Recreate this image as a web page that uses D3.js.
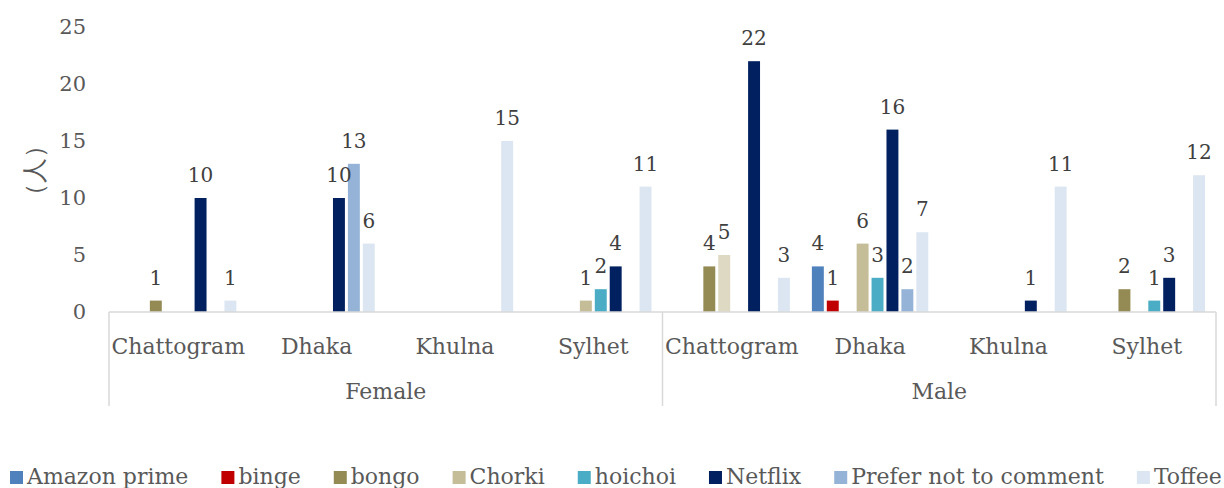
<!DOCTYPE html>
<html>
<head>
<meta charset="utf-8">
<script src="https://cdn.jsdelivr.net/npm/d3@7"></script>
<style>
  body { margin: 0; background: #fff; }
  svg { display: block; font-family: 'DejaVu Serif', serif; }
</style>
</head>
<body>
<div id="chart"></div>
<script>
// chart data
const genders = ['Female', 'Male'];
const regions = ['Chattogram', 'Dhaka', 'Khulna', 'Sylhet'];
const series = ['Amazon prime', 'binge', 'bongo', 'Chorki', 'hoichoi', 'Netflix', 'Prefer not to comment', 'Toffee'];
const colors = ['#4F81BD', '#C00000', '#948A54', '#C4BD97', '#4BACC6', '#002060', '#95B3D7', '#DCE6F2'];
const yTicks = [0, 5, 10, 15, 20, 25];

// values per series, in order Female Chattogram..Sylhet then Male Chattogram..Sylhet (null = no bar)
const amazon  = [null, null, null, null, null, 4, null, null];
const binge   = [null, null, null, null, null, 1, null, null];
const bongo   = [1, null, null, null, 4, null, null, 2];
const chorki  = [null, null, null, 1, 5, 6, null, null];
const hoichoi = [null, null, null, 2, null, 3, null, 1];
const netflix = [10, 10, null, 4, 22, 16, 1, 3];
const prefer  = [null, 13, null, null, null, 2, null, null];
const toffee  = [1, 6, 15, 11, 3, 7, 11, 12];
const values = [amazon, binge, bongo, chorki, hoichoi, netflix, prefer, toffee];

const width = 1224, height = 488;
const plotLeft = 109, plotRight = 1216, plotTop = 27, base = 312;
const textColor = '#595959';
const gridColor = '#d9d9d9';

const svg = d3.select('#chart').append('svg')
    .attr('width', width)
    .attr('height', height);

// one slot per gender/region pair
const groups = [];
genders.forEach(g => regions.forEach(r => groups.push(g + '|' + r)));

const x0 = d3.scaleBand().domain(groups).range([plotLeft, plotRight]);
const x1 = d3.scaleBand().domain(series)
    .range([11, x0.bandwidth() - 11])
    .paddingInner(0.2);
const y = d3.scaleLinear().domain([0, 25]).range([base, plotTop]);

// y tick labels (no axis line)
const yAxis = svg.append('g')
    .attr('transform', `translate(86,0)`)
    .call(d3.axisLeft(y).tickValues(yTicks).tickSize(0).tickPadding(0));
yAxis.select('.domain').remove();
yAxis.selectAll('text')
    .attr('fill', textColor)
    .style('font-size', '21px')
    .style('font-family', 'DejaVu Serif');

// y axis title
svg.append('text')
    .attr('transform', 'translate(43,170) rotate(-90)')
    .attr('text-anchor', 'middle')
    .attr('fill', textColor)
    .style('font-size', '25px')
    .text('（人）');

// bars
const flat = [];
values.forEach((arr, si) => arr.forEach((v, gi) => {
    if (v != null) flat.push({ s: series[si], si: si, g: groups[gi], v: v });
}));

svg.append('g').selectAll('rect')
    .data(flat)
    .join('rect')
    .attr('x', d => x0(d.g) + x1(d.s))
    .attr('y', d => y(d.v))
    .attr('width', x1.bandwidth())
    .attr('height', d => y(0) - y(d.v))
    .attr('fill', d => (d.g === 'Male|Chattogram' && d.s === 'Chorki') ? '#DDD9C3' : colors[d.si]);

// value labels
svg.append('g').selectAll('text')
    .data(flat)
    .join('text')
    .attr('x', d => x0(d.g) + x1(d.s) + x1.bandwidth() / 2)
    .attr('y', d => y(d.v) - 16)
    .attr('text-anchor', 'middle')
    .attr('fill', '#404040')
    .style('font-size', '20px')
    .text(d => d.v);

// category axis lines
const axisG = svg.append('g').attr('stroke', gridColor).attr('stroke-width', 1.5);
axisG.append('line')
    .attr('x1', plotLeft).attr('x2', plotRight)
    .attr('y1', base).attr('y2', base);
[plotLeft, x0('Male|Chattogram'), plotRight].forEach(xx => {
    axisG.append('line')
        .attr('x1', xx).attr('x2', xx)
        .attr('y1', base).attr('y2', 406);
});

// region labels
svg.append('g').selectAll('text')
    .data(groups)
    .join('text')
    .attr('x', d => x0(d) + x0.bandwidth() / 2)
    .attr('y', 354)
    .attr('text-anchor', 'middle')
    .attr('fill', textColor)
    .style('font-size', '22px')
    .text(d => d.split('|')[1]);

// gender labels
svg.append('g').selectAll('text')
    .data(genders)
    .join('text')
    .attr('x', g => (x0(g + '|Chattogram') + x0(g + '|Sylhet') + x0.bandwidth()) / 2)
    .attr('y', 399)
    .attr('text-anchor', 'middle')
    .attr('fill', textColor)
    .style('font-size', '22px')
    .text(g => g);

// legend, laid out left to right
const legend = svg.append('g');
let lx = 10;
series.forEach((s, i) => {
    legend.append('rect')
        .attr('x', lx).attr('y', 471)
        .attr('width', 13).attr('height', 13)
        .attr('fill', colors[i]);
    const t = legend.append('text')
        .attr('x', lx + 17)
        .attr('y', 484)
        .attr('fill', textColor)
        .style('font-size', '22px')
        .text(s);
    lx += 17 + t.node().getComputedTextLength() + 33;
});
</script>
</body>
</html>
